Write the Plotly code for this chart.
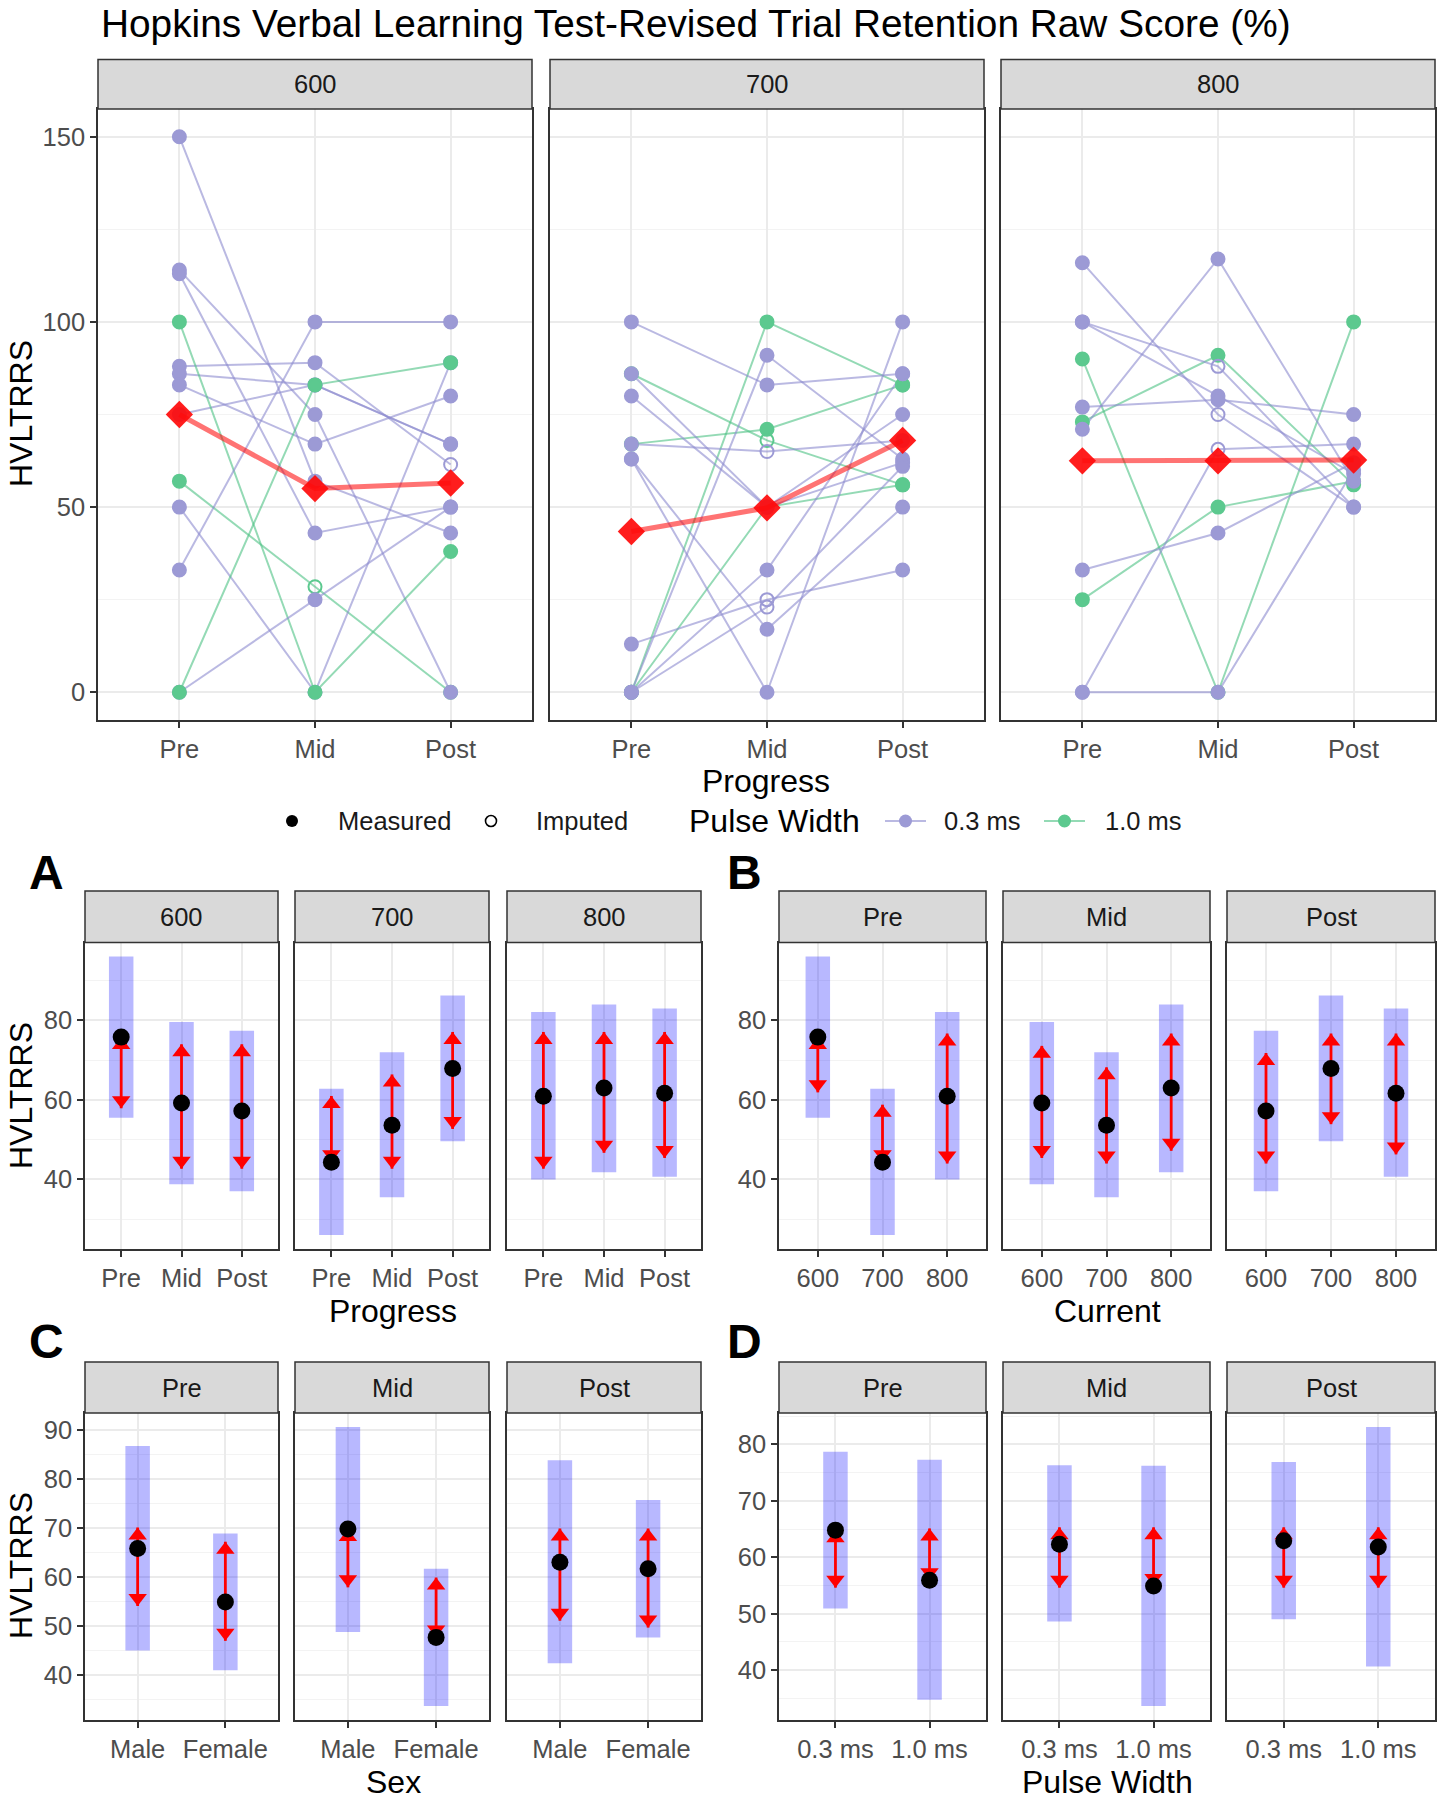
import plotly.graph_objects as go

W, H = 1443, 1800
FONT = "Liberation Sans, Arial, Helvetica, sans-serif"

# ---------------- categories ----------------
progress = ["Pre", "Mid", "Post"]
currents = ["600", "700", "800"]
sexes = ["Male", "Female"]
pulse_widths = ["0.3 ms", "1.0 ms"]

# ---------------- top: individual trajectories ----------------
c600_pw = ["0.3 ms", "1.0 ms", "0.3 ms", "0.3 ms", "0.3 ms", "0.3 ms", "0.3 ms",
           "0.3 ms", "0.3 ms", "1.0 ms", "0.3 ms", "0.3 ms", "1.0 ms"]
c600_pre = [150, 57, 114, 113, 88, 86, 83, 75, 50, 100, 33, 0, 0]
c600_mid = [57, 28.5, 75, 43, 89, 83, 67, 83, 0, 0, 100, 25, 83]
c600_post = [43, 0, 0, 50, 61.5, 67, 80, 67, 89, 38, 100, 50, 89]
c600_imputed = ["", "Mid", "", "", "Post", "", "", "", "", "", "", "", ""]
mean_600 = [75, 55, 56.5]

c700_pw = ["1.0 ms", "1.0 ms", "1.0 ms", "1.0 ms", "0.3 ms", "0.3 ms", "0.3 ms",
           "0.3 ms", "0.3 ms", "0.3 ms", "0.3 ms", "0.3 ms", "0.3 ms", "0.3 ms"]
c700_pre = [0, 0, 67, 86, 100, 86, 80, 67, 63, 63, 13, 0, 0, 0]
c700_mid = [100, 50, 71, 68, 83, 50, 50, 65, 0, 17, 25, 91, 33, 23]
c700_post = [83, 56, 83, 56, 86, 62, 75, 68, 100, 50, 33, 63, 86, 61]
c700_imputed = ["", "", "", "Mid", "", "", "", "Mid", "", "", "Mid", "", "", "Mid"]
mean_700 = [43.4, 49.8, 68]

c800_pw = ["1.0 ms", "1.0 ms", "1.0 ms", "0.3 ms", "0.3 ms", "0.3 ms", "0.3 ms",
           "0.3 ms", "0.3 ms", "0.3 ms", "0.3 ms"]
c800_pre = [90, 73, 25, 116, 100, 100, 77, 71, 33, 0, 0]
c800_mid = [0, 91, 50, 75, 80, 88, 79, 117, 43, 0, 65.6]
c800_post = [100, 56, 57, 50, 59, 50, 75, 57, 62, 60, 67]
c800_imputed = ["", "", "", "Mid", "", "Mid", "", "", "", "", "Mid"]
mean_800 = [62.5, 62.5, 62.7]

# ---------------- A / B: estimates by current x progress ----------------
est_600 = [75.8, 59.2, 57.2]
est_700 = [44.3, 53.6, 67.9]
est_800 = [60.9, 63.0, 61.7]
ci_lo_600 = [55.5, 38.8, 37.0]
ci_hi_600 = [96.1, 79.6, 77.4]
ci_lo_700 = [26.0, 35.5, 49.6]
ci_hi_700 = [62.8, 72.0, 86.3]
ci_lo_800 = [40.0, 41.8, 40.7]
ci_hi_800 = [82.1, 84.0, 83.0]
# comparison arrows, panel A (within current, across progress)
arrA_lo_600 = [57.9, 42.7, 42.7]
arrA_hi_600 = [75.8, 74.0, 74.0]
arrA_lo_700 = [44.3, 42.7, 52.7]
arrA_hi_700 = [61.0, 66.4, 77.1]
arrA_lo_800 = [42.7, 46.7, 45.4]
arrA_hi_800 = [77.1, 77.1, 77.1]
# comparison arrows, panel B (within progress, across current)
arrB_lo_pre = [61.9, 44.3, 44.0]
arrB_hi_pre = [75.8, 58.8, 76.7]
arrB_lo_mid = [45.4, 44.0, 47.2]
arrB_hi_mid = [73.6, 68.2, 76.7]
arrB_lo_post = [44.0, 53.9, 46.3]
arrB_hi_post = [71.8, 76.7, 76.7]

# ---------------- C: sex ----------------
sex_est_pre = [65.8, 54.9]
sex_lo_pre = [45.0, 41.0]
sex_hi_pre = [86.7, 68.9]
sex_arr_lo_pre = [54.1, 47.0]
sex_arr_hi_pre = [70.1, 67.2]
sex_est_mid = [69.8, 47.7]
sex_lo_mid = [48.8, 33.7]
sex_hi_mid = [90.6, 61.7]
sex_arr_lo_mid = [57.9, 47.7]
sex_arr_hi_mid = [69.8, 59.9]
sex_est_post = [63.0, 61.7]
sex_lo_post = [42.4, 47.7]
sex_hi_post = [83.8, 75.7]
sex_arr_lo_post = [51.1, 49.7]
sex_arr_hi_post = [69.9, 69.9]

# ---------------- D: pulse width ----------------
pw_est_pre = [64.8, 55.9]
pw_lo_pre = [50.9, 34.7]
pw_hi_pre = [78.7, 77.3]
pw_arr_lo_pre = [54.6, 55.9]
pw_arr_hi_pre = [64.8, 65.1]
pw_est_mid = [62.3, 54.9]
pw_lo_mid = [48.6, 33.6]
pw_hi_mid = [76.3, 76.2]
pw_arr_lo_mid = [54.6, 54.9]
pw_arr_hi_mid = [65.3, 65.3]
pw_est_post = [62.9, 61.8]
pw_lo_post = [49.0, 40.6]
pw_hi_post = [76.9, 83.1]
pw_arr_lo_post = [54.6, 54.6]
pw_arr_hi_post = [65.3, 65.3]

# ---------------- styles ----------------
PW_MARK = {"0.3 ms": "#9C9AD5", "1.0 ms": "#5CC98F"}
PW_LINE = {"0.3 ms": "rgba(140,138,206,0.6)", "1.0 ms": "rgba(76,194,132,0.6)"}
GRID = "#EBEBEB"
MINOR = "#F3F3F3"
BORDER = "#333333"
TICKTXT = "#4D4D4D"
S_TICK = 25.5
S_TITLE = 32

fig = go.Figure()
shapes = []
annotations = []
layout_axes = {}
counter = [0]


def px_x(p):
    return p / W


def px_y(p):
    return 1 - p / H


def expand(lo, hi, f=0.05):
    d = (hi - lo) * f
    return [lo - d, hi + d]


def add_panel(xpx, strip_px, plot_px, cats, yrange, dtick, minor_dtick, show_y, label):
    counter[0] += 1
    n = counter[0]
    sfx = "" if n == 1 else str(n)
    layout_axes["xaxis" + sfx] = dict(
        domain=[px_x(xpx[0]), px_x(xpx[1])], anchor="y" + sfx, type="category",
        categoryorder="array", categoryarray=cats, range=[-0.6, len(cats) - 0.4],
        showgrid=True, gridcolor=GRID, gridwidth=2, zeroline=False,
        ticks="outside", ticklen=6, tickwidth=1.5, tickcolor=BORDER,
        tickfont=dict(size=S_TICK, color=TICKTXT, family=FONT),
        showline=True, mirror=True, linecolor=BORDER, linewidth=1.5, fixedrange=True)
    layout_axes["yaxis" + sfx] = dict(
        domain=[px_y(plot_px[1]), px_y(plot_px[0])], anchor="x" + sfx,
        range=yrange, tick0=0, dtick=dtick, showgrid=True, gridcolor=GRID, gridwidth=2,
        minor=dict(dtick=minor_dtick, tick0=0, showgrid=True, gridcolor=MINOR, gridwidth=1, ticks=""),
        zeroline=False, showticklabels=show_y, ticks="outside" if show_y else "",
        ticklen=6, tickwidth=1.5, tickcolor=BORDER,
        tickfont=dict(size=S_TICK, color=TICKTXT, family=FONT),
        showline=True, mirror=True, linecolor=BORDER, linewidth=1.5, fixedrange=True)
    shapes.append(dict(type="rect", xref="paper", yref="paper",
                       x0=px_x(xpx[0]), x1=px_x(xpx[1]),
                       y0=px_y(strip_px[1]), y1=px_y(strip_px[0]),
                       fillcolor="#D9D9D9", line=dict(color=BORDER, width=1.5), layer="above"))
    annotations.append(dict(xref="paper", yref="paper", x=px_x((xpx[0] + xpx[1]) / 2),
                            y=px_y((strip_px[0] + strip_px[1]) / 2), text=label, showarrow=False,
                            xanchor="center", yanchor="middle",
                            font=dict(size=S_TICK, color="#1A1A1A", family=FONT)))
    return "x" + sfx, "y" + sfx


def text(x, y, s, size, anchor="center", angle=0, bold=False, color="#000000"):
    annotations.append(dict(xref="paper", yref="paper", x=px_x(x), y=px_y(y),
                            text=("<b>%s</b>" % s) if bold else s, showarrow=False,
                            xanchor=anchor, yanchor="middle", textangle=angle,
                            font=dict(size=size, color=color, family=FONT)))


# ---------------- geometry (pixels) ----------------
TOP_X = [(98, 532), (550, 984), (1001, 1435)]
TOP_STRIP, TOP_PLOT = (59.5, 109), (109, 720)
LEFT_X = [(85, 278), (295, 489), (507, 701)]
RIGHT_X = [(779, 986), (1003, 1210), (1227, 1435)]
ROW1_STRIP, ROW1_PLOT = (891, 942.5), (942.5, 1249)
ROW2_STRIP, ROW2_PLOT = (1362, 1413), (1413, 1720)

# ---------------- top panels ----------------
top_sets = [
    (c600_pw, c600_pre, c600_mid, c600_post, c600_imputed, mean_600),
    (c700_pw, c700_pre, c700_mid, c700_post, c700_imputed, mean_700),
    (c800_pw, c800_pre, c800_mid, c800_post, c800_imputed, mean_800),
]
all_top = [v for s in top_sets for arr in s[1:4] for v in arr]
top_range = expand(min(all_top), max(all_top))

for i, (pw, pre, mid, post, imp, mean) in enumerate(top_sets):
    xr, yr = add_panel(TOP_X[i], TOP_STRIP, TOP_PLOT, progress, top_range, 50, 25, i == 0, currents[i])
    for k in range(len(pw)):
        fig.add_trace(go.Scatter(x=progress, y=[pre[k], mid[k], post[k]], mode="lines",
                                 line=dict(color=PW_LINE[pw[k]], width=2),
                                 xaxis=xr, yaxis=yr, showlegend=False, hoverinfo="skip"))
    for k in range(len(pw)):
        syms = ["circle-open" if imp[k] == p else "circle" for p in progress]
        fig.add_trace(go.Scatter(x=progress, y=[pre[k], mid[k], post[k]], mode="markers",
                                 marker=dict(symbol=syms, size=13, color=PW_MARK[pw[k]],
                                             line=dict(color=PW_MARK[pw[k]], width=2)),
                                 xaxis=xr, yaxis=yr, showlegend=False, hoverinfo="skip"))
    fig.add_trace(go.Scatter(x=progress, y=mean, mode="lines",
                             line=dict(color="rgba(255,0,0,0.55)", width=5),
                             xaxis=xr, yaxis=yr, showlegend=False, hoverinfo="skip"))
    fig.add_trace(go.Scatter(x=progress, y=mean, mode="markers",
                             marker=dict(symbol="diamond", size=21, color="rgba(255,10,10,0.92)"),
                             xaxis=xr, yaxis=yr, showlegend=False, hoverinfo="skip"))


# ---------------- lower panels ----------------
HEAD = 16


def emm_panel(xr, yr, cats, est, lo, hi, alo, ahi, bar_units):
    fig.add_trace(go.Bar(x=cats, y=[h - l for l, h in zip(lo, hi)], base=lo, width=bar_units,
                         marker=dict(color="rgba(0,0,255,0.28)", line=dict(width=0)),
                         xaxis=xr, yaxis=yr, showlegend=False, hoverinfo="skip"))
    xs, ys = [], []
    for c, a, b in zip(cats, alo, ahi):
        xs += [c, c, None]
        ys += [a, b, None]
    fig.add_trace(go.Scatter(x=xs, y=ys, mode="lines", line=dict(color="#FF0000", width=2.8),
                             xaxis=xr, yaxis=yr, showlegend=False, hoverinfo="skip"))
    fig.add_trace(go.Scatter(x=cats, y=ahi, mode="markers",
                             marker=dict(symbol="triangle-up", size=HEAD, color="#FF0000",
                                         angle=0, standoff=HEAD / 2),
                             xaxis=xr, yaxis=yr, showlegend=False, hoverinfo="skip"))
    fig.add_trace(go.Scatter(x=cats, y=alo, mode="markers",
                             marker=dict(symbol="triangle-up", size=HEAD, color="#FF0000",
                                         angle=180, standoff=HEAD / 2),
                             xaxis=xr, yaxis=yr, showlegend=False, hoverinfo="skip"))
    fig.add_trace(go.Scatter(x=cats, y=est, mode="markers",
                             marker=dict(symbol="circle", size=17, color="#000000"),
                             xaxis=xr, yaxis=yr, showlegend=False, hoverinfo="skip"))


BAR_PX = 24.5
est_by_cur = [est_600, est_700, est_800]
lo_by_cur = [ci_lo_600, ci_lo_700, ci_lo_800]
hi_by_cur = [ci_hi_600, ci_hi_700, ci_hi_800]
ab_vals = [v for arr in lo_by_cur + hi_by_cur for v in arr]
ab_range = expand(min(ab_vals), max(ab_vals))

# A
arrA = [(arrA_lo_600, arrA_hi_600), (arrA_lo_700, arrA_hi_700), (arrA_lo_800, arrA_hi_800)]
for i in range(3):
    xr, yr = add_panel(LEFT_X[i], ROW1_STRIP, ROW1_PLOT, progress, ab_range, 20, 10, i == 0, currents[i])
    units = BAR_PX * (len(progress) + 0.2) / (LEFT_X[i][1] - LEFT_X[i][0])
    emm_panel(xr, yr, progress, est_by_cur[i], lo_by_cur[i], hi_by_cur[i], arrA[i][0], arrA[i][1], units)

# B
arrB = [(arrB_lo_pre, arrB_hi_pre), (arrB_lo_mid, arrB_hi_mid), (arrB_lo_post, arrB_hi_post)]
for j in range(3):
    xr, yr = add_panel(RIGHT_X[j], ROW1_STRIP, ROW1_PLOT, currents, ab_range, 20, 10, j == 0, progress[j])
    units = BAR_PX * (len(currents) + 0.2) / (RIGHT_X[j][1] - RIGHT_X[j][0])
    emm_panel(xr, yr, currents, [e[j] for e in est_by_cur], [l[j] for l in lo_by_cur],
              [h[j] for h in hi_by_cur], arrB[j][0], arrB[j][1], units)

# C
sex_sets = [
    (sex_est_pre, sex_lo_pre, sex_hi_pre, sex_arr_lo_pre, sex_arr_hi_pre),
    (sex_est_mid, sex_lo_mid, sex_hi_mid, sex_arr_lo_mid, sex_arr_hi_mid),
    (sex_est_post, sex_lo_post, sex_hi_post, sex_arr_lo_post, sex_arr_hi_post),
]
c_vals = [v for s in sex_sets for arr in (s[1], s[2]) for v in arr]
c_range = expand(min(c_vals), max(c_vals))
for j in range(3):
    xr, yr = add_panel(LEFT_X[j], ROW2_STRIP, ROW2_PLOT, sexes, c_range, 10, 5, j == 0, progress[j])
    units = BAR_PX * (len(sexes) + 0.2) / (LEFT_X[j][1] - LEFT_X[j][0])
    emm_panel(xr, yr, sexes, *sex_sets[j], units)

# D
pw_sets = [
    (pw_est_pre, pw_lo_pre, pw_hi_pre, pw_arr_lo_pre, pw_arr_hi_pre),
    (pw_est_mid, pw_lo_mid, pw_hi_mid, pw_arr_lo_mid, pw_arr_hi_mid),
    (pw_est_post, pw_lo_post, pw_hi_post, pw_arr_lo_post, pw_arr_hi_post),
]
d_vals = [v for s in pw_sets for arr in (s[1], s[2]) for v in arr]
d_range = expand(min(d_vals), max(d_vals))
for j in range(3):
    xr, yr = add_panel(RIGHT_X[j], ROW2_STRIP, ROW2_PLOT, pulse_widths, d_range, 10, 5, j == 0, progress[j])
    units = BAR_PX * (len(pulse_widths) + 0.2) / (RIGHT_X[j][1] - RIGHT_X[j][0])
    emm_panel(xr, yr, pulse_widths, *pw_sets[j], units)

# ---------------- texts ----------------
text(99, 24, "Hopkins Verbal Learning Test-Revised Trial Retention Raw Score (%)", 38.8, anchor="left")
text(21, 414, "HVLTRRS", S_TITLE, angle=-90)
text(766, 781, "Progress", S_TITLE)
text(21, 1096, "HVLTRRS", S_TITLE, angle=-90)
text(21, 1566, "HVLTRRS", S_TITLE, angle=-90)
text(393, 1311, "Progress", S_TITLE)
text(1107, 1311, "Current", S_TITLE)
text(393, 1782, "Sex", S_TITLE)
text(1107, 1782, "Pulse Width", S_TITLE)
text(46, 872, "A", 48, bold=True)
text(744, 872, "B", 48, bold=True)
text(46, 1341, "C", 48, bold=True)
text(744, 1341, "D", 48, bold=True)

# ---------------- legend (drawn) ----------------
LEG_Y = 821


def circ(cx, cy, d, fill, line, lw):
    shapes.append(dict(type="circle", xref="paper", yref="paper",
                       x0=px_x(cx - d / 2), x1=px_x(cx + d / 2), y0=px_y(cy + d / 2), y1=px_y(cy - d / 2),
                       fillcolor=fill, line=dict(color=line, width=lw)))


circ(292, LEG_Y, 12, "#000000", "#000000", 0)
text(336, LEG_Y, "Measured", S_TICK, anchor="left", color="#1A1A1A")
circ(491, LEG_Y, 11, "rgba(0,0,0,0)", "#000000", 1.6)
text(534, LEG_Y, "Imputed", S_TICK, anchor="left", color="#1A1A1A")
text(687, LEG_Y, "Pulse Width", S_TITLE, anchor="left")
for (x0, x1, key, tx) in [(885, 926, "0.3 ms", 942), (1044, 1085, "1.0 ms", 1103)]:
    shapes.append(dict(type="line", xref="paper", yref="paper", x0=px_x(x0), x1=px_x(x1),
                       y0=px_y(LEG_Y), y1=px_y(LEG_Y), line=dict(color=PW_LINE[key], width=2)))
    circ((x0 + x1) / 2, LEG_Y, 13, PW_MARK[key], PW_MARK[key], 0)
    text(tx, LEG_Y, key, S_TICK, anchor="left", color="#1A1A1A")

fig.update_layout(**layout_axes)
fig.update_layout(width=W, height=H, margin=dict(l=0, r=0, t=0, b=0),
                  paper_bgcolor="white", plot_bgcolor="white", barmode="overlay",
                  font=dict(family=FONT), showlegend=False,
                  shapes=shapes, annotations=annotations)

fig.write_html("out.html", config={"displayModeBar": False},
               post_script="document.body.style.margin='0';")
